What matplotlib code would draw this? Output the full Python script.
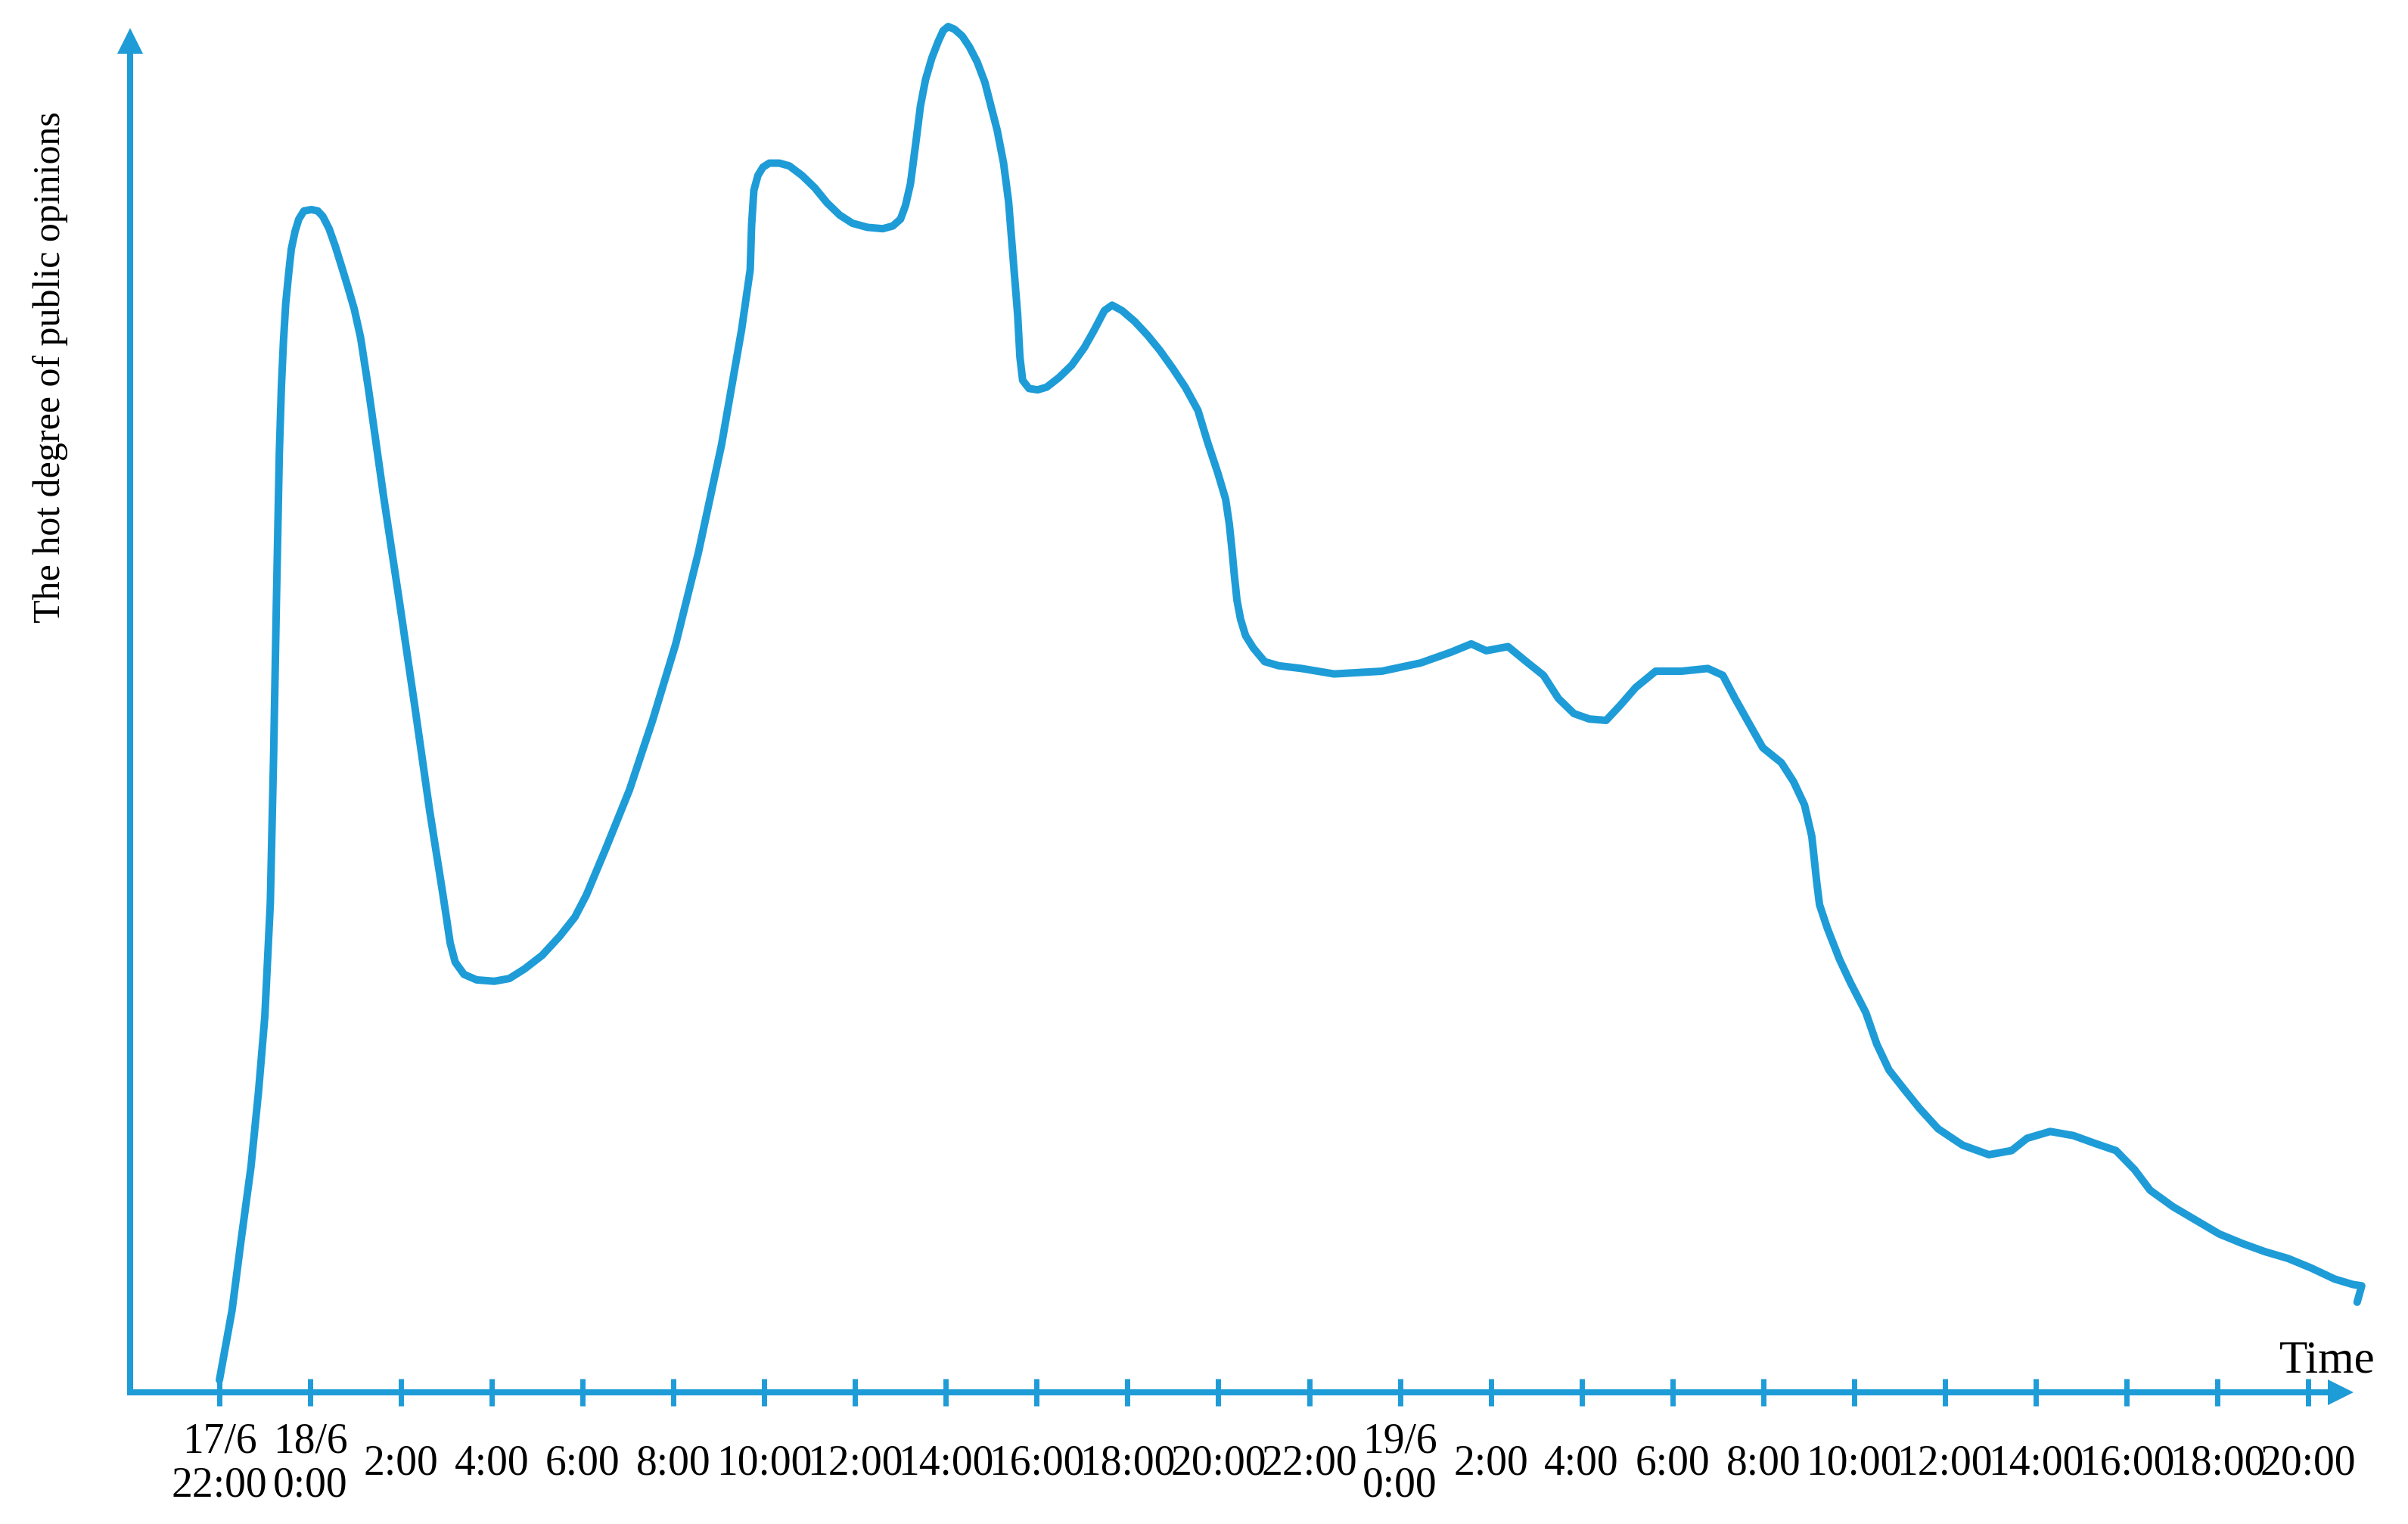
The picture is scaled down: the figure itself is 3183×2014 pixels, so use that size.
import matplotlib
matplotlib.use("Agg")
import matplotlib.pyplot as plt

# hours after 17/6 22:00 and hot degree (arbitrary units, peak = 100)
hours = [0.00, 0.278, 0.472, 0.695, 0.861, 1.000, 1.121, 1.195, 1.255, 1.320, 1.365, 1.410,
         1.46, 1.528, 1.583, 1.666, 1.749, 1.861, 2.028, 2.166, 2.278, 2.416, 2.554, 2.694,
         2.832, 2.971, 3.111, 3.277, 3.62, 3.96, 4.30, 4.63, 4.915, 4.998, 5.082, 5.193,
         5.387, 5.665, 6.053, 6.386, 6.720, 7.109, 7.497, 7.830, 8.080, 8.52, 9.03, 9.54,
         10.05, 10.55, 11.06, 11.50, 11.69, 11.72, 11.77, 11.86, 11.97, 12.11, 12.33, 12.55,
         12.83, 13.11, 13.38, 13.66, 13.94, 14.27, 14.61, 14.83, 15.00, 15.11, 15.22, 15.33,
         15.44, 15.55, 15.69, 15.83, 15.94, 16.05, 16.19, 16.36, 16.52, 16.69, 16.86, 16.99,
         17.13, 17.27, 17.38, 17.49, 17.58, 17.63, 17.69, 17.83, 18.02, 18.22, 18.49, 18.77,
         19.05, 19.27, 19.49, 19.66, 19.88, 20.16, 20.44, 20.71, 20.99, 21.27, 21.55, 21.77,
         21.99, 22.16, 22.24, 22.30, 22.35, 22.41, 22.49, 22.60, 22.77, 23.02, 23.33, 23.83,
         24.55, 25.60, 26.45, 27.13, 27.57, 27.90, 28.38, 28.82, 29.16, 29.49, 29.83, 30.17,
         30.54, 30.85, 31.19, 31.63, 32.20, 32.78, 33.11, 33.38, 33.65, 33.99, 34.40, 34.67,
         34.91, 35.07, 35.18, 35.24, 35.41, 35.68, 35.92, 36.26, 36.50, 36.77, 37.10, 37.44,
         37.85, 38.39, 38.97, 39.47, 39.81, 40.32, 40.83, 41.33, 41.77, 42.18, 42.52, 43.02,
         43.53, 44.04, 44.55, 45.05, 45.56, 46.07, 46.58, 46.98, 47.18, 47.08]
hot_degree = [0.9, 6.0, 11.0, 16.5, 22.0, 27.5, 35.8, 46.8, 57.8, 68.8, 73.6, 76.9,
              79.7, 82.0, 83.7, 85.0, 85.9, 86.5, 86.6, 86.5, 86.1, 85.2, 83.9, 82.4,
              80.9, 79.3, 77.2, 73.6, 65.5, 58.0, 50.3, 42.6, 36.6, 34.8, 32.9, 31.5,
              30.6, 30.2, 30.1, 30.3, 31.0, 32.0, 33.4, 34.8, 36.4, 39.9, 44.1, 49.2,
              54.8, 61.5, 69.4, 77.8, 82.2, 85.4, 88.0, 89.1, 89.7, 90.0, 90.0, 89.8,
              89.1, 88.2, 87.1, 86.2, 85.6, 85.3, 85.2, 85.4, 85.9, 86.9, 88.5, 91.3,
              94.2, 96.1, 97.7, 98.9, 99.7, 100.0, 99.8, 99.3, 98.5, 97.4, 95.9, 94.2,
              92.4, 90.0, 87.2, 82.6, 78.9, 75.8, 74.1, 73.5, 73.4, 73.6, 74.3, 75.2,
              76.5, 77.8, 79.2, 79.6, 79.2, 78.4, 77.4, 76.3, 75.0, 73.6, 71.9, 69.5,
              67.3, 65.4, 63.6, 61.7, 59.9, 58.0, 56.6, 55.4, 54.5, 53.5, 53.2, 53.0,
              52.6, 52.8, 53.4, 54.2, 54.8, 54.3, 54.6, 53.4, 52.5, 50.8, 49.7, 49.3,
              49.2, 50.3, 51.6, 52.8, 52.8, 53.0, 52.5, 50.8, 49.2, 47.2, 46.1, 44.7,
              43.0, 40.7, 37.3, 35.7, 34.0, 31.7, 30.0, 27.8, 25.5, 23.6, 22.2, 20.8,
              19.3, 18.1, 17.4, 17.7, 18.6, 19.1, 18.8, 18.2, 17.7, 16.3, 14.8, 13.6,
              12.6, 11.6, 10.9, 10.3, 9.8, 9.1, 8.3, 7.9, 7.8, 6.6]

tick_hours = list(range(0, 47, 2))
tick_labels = ["17/6\n22:00", "18/6\n0:00", "2:00", "4:00", "6:00", "8:00", "10:00",
               "12:00", "14:00", "16:00", "18:00", "20:00", "22:00", "19/6\n0:00",
               "2:00", "4:00", "6:00", "8:00", "10:00", "12:00", "14:00", "16:00",
               "18:00", "20:00"]

blue = "#1E9CD7"
plt.rcParams['font.family'] = ['Liberation Serif', 'DejaVu Serif']

fig = plt.figure(figsize=(31.83, 20.15), dpi=100)
ax = fig.add_axes([0, 0, 1, 1])
ax.set_xlim(-4.832, 48.20)
ax.set_ylim(-9.64, 102.0)

ax.plot(hours, hot_degree, color=blue, lw=7.2, solid_joinstyle='round',
        solid_capstyle='round', clip_on=False, zorder=3)

# axes drawn as spines with arrow heads
for side in ['top', 'right']:
    ax.spines[side].set_visible(False)
ax.spines['left'].set_position(('data', -1.96))
ax.spines['bottom'].set_position(('data', 0))
ax.spines['left'].set_bounds(0, 98.1)
ax.spines['bottom'].set_bounds(-1.96, 46.42)
for side in ['left', 'bottom']:
    ax.spines[side].set_color(blue)
    ax.spines[side].set_linewidth(5.8)
ax.plot(-1.96, 98.98, marker='^', ms=25, color=blue, mew=0, clip_on=False)
ax.plot(46.71, 0, marker='>', ms=25, color=blue, mew=0, clip_on=False)

ax.set_yticks([])
ax.set_xticks(tick_hours, tick_labels)
ax.tick_params(axis='x', direction='inout', length=26, width=5, color=blue,
               pad=54, labelsize=40)
for t in ax.get_xticklabels():
    t.set_va('center')
    t.set_linespacing(1.15)

ax.set_ylabel("The hot degree of public opinions", fontsize=36, va='center')
ax.yaxis.set_label_coords(0.021, 0.759)
ax.text(47.48, 1.55, "Time", fontsize=44, ha='right', va='baseline')

fig.savefig("out.png", dpi=100)
